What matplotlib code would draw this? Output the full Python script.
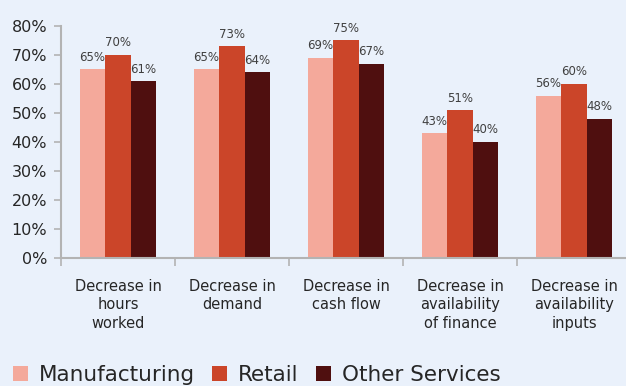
import matplotlib
matplotlib.use("Agg")
import matplotlib.pyplot as plt
import numpy as np

categories = ["Decrease in\nhours\nworked", "Decrease in\ndemand", "Decrease in\ncash flow",
              "Decrease in\navailability\nof finance", "Decrease in\navailability\ninputs"]
series_names = ["Manufacturing", "Retail", "Other Services"]
manufacturing = [65, 65, 69, 43, 56]
retail = [70, 73, 75, 51, 60]
other_services = [61, 64, 67, 40, 48]
y_ticks = [0, 10, 20, 30, 40, 50, 60, 70, 80]

colors = ["#f4a99b", "#cb4529", "#4f0f0f"]
bg = "#eaf1fb"
text_col = "#262626"

plt.rcParams['font.family'] = ['DejaVu Sans']

fig = plt.figure(figsize=(6.26, 3.86), dpi=100, facecolor=bg)
ax = fig.add_axes([61 / 626, 1 - 258 / 386, 570 / 626, 232 / 386])
ax.set_facecolor(bg)

x = np.arange(len(categories))
width = 0.224
handles = []
for i, (vals, c) in enumerate(zip([manufacturing, retail, other_services], colors)):
    bars = ax.bar(x + (i - 1) * width, vals, width, color=c, edgecolor="none", zorder=2)
    handles.append(bars)
    for xi, v in zip(x + (i - 1) * width, vals):
        ax.annotate(f"{v}%", (xi, v), xytext=(0, 4), textcoords="offset points",
                    ha="center", va="bottom", fontsize=8.5, color="#404040")

ax.set_xlim(-0.5, len(categories) - 0.5)
ax.set_ylim(0, 80)
ax.set_yticks(y_ticks)
ax.set_yticklabels([f"{t}%" for t in y_ticks], fontsize=11.5, color=text_col)

ax.set_xticks(np.arange(len(categories) + 1) - 0.5)
ax.set_xticklabels([])
ax.set_xticks(x, minor=True)
ax.set_xticklabels(categories, minor=True, fontsize=10.5, color=text_col, linespacing=1.3)
ax.tick_params(axis="x", which="minor", length=0, pad=15)
ax.tick_params(axis="x", which="major", length=6, color="#b3b3b3", width=1.2)
ax.tick_params(axis="y", length=5, color="#b3b3b3", width=1.2, pad=5)

for s in ["top", "right"]:
    ax.spines[s].set_visible(False)
for s in ["left", "bottom"]:
    ax.spines[s].set_color("#b3b3b3")
    ax.spines[s].set_linewidth(1.5)

fig.legend(handles, series_names, loc="lower left", bbox_to_anchor=(-0.01, -0.048),
           ncol=3, frameon=False, fontsize=15.5, handlelength=0.7, handleheight=0.7,
           handletextpad=0.5, columnspacing=0.8, labelcolor=text_col)

fig.savefig("out.png", dpi=100, facecolor=bg)
